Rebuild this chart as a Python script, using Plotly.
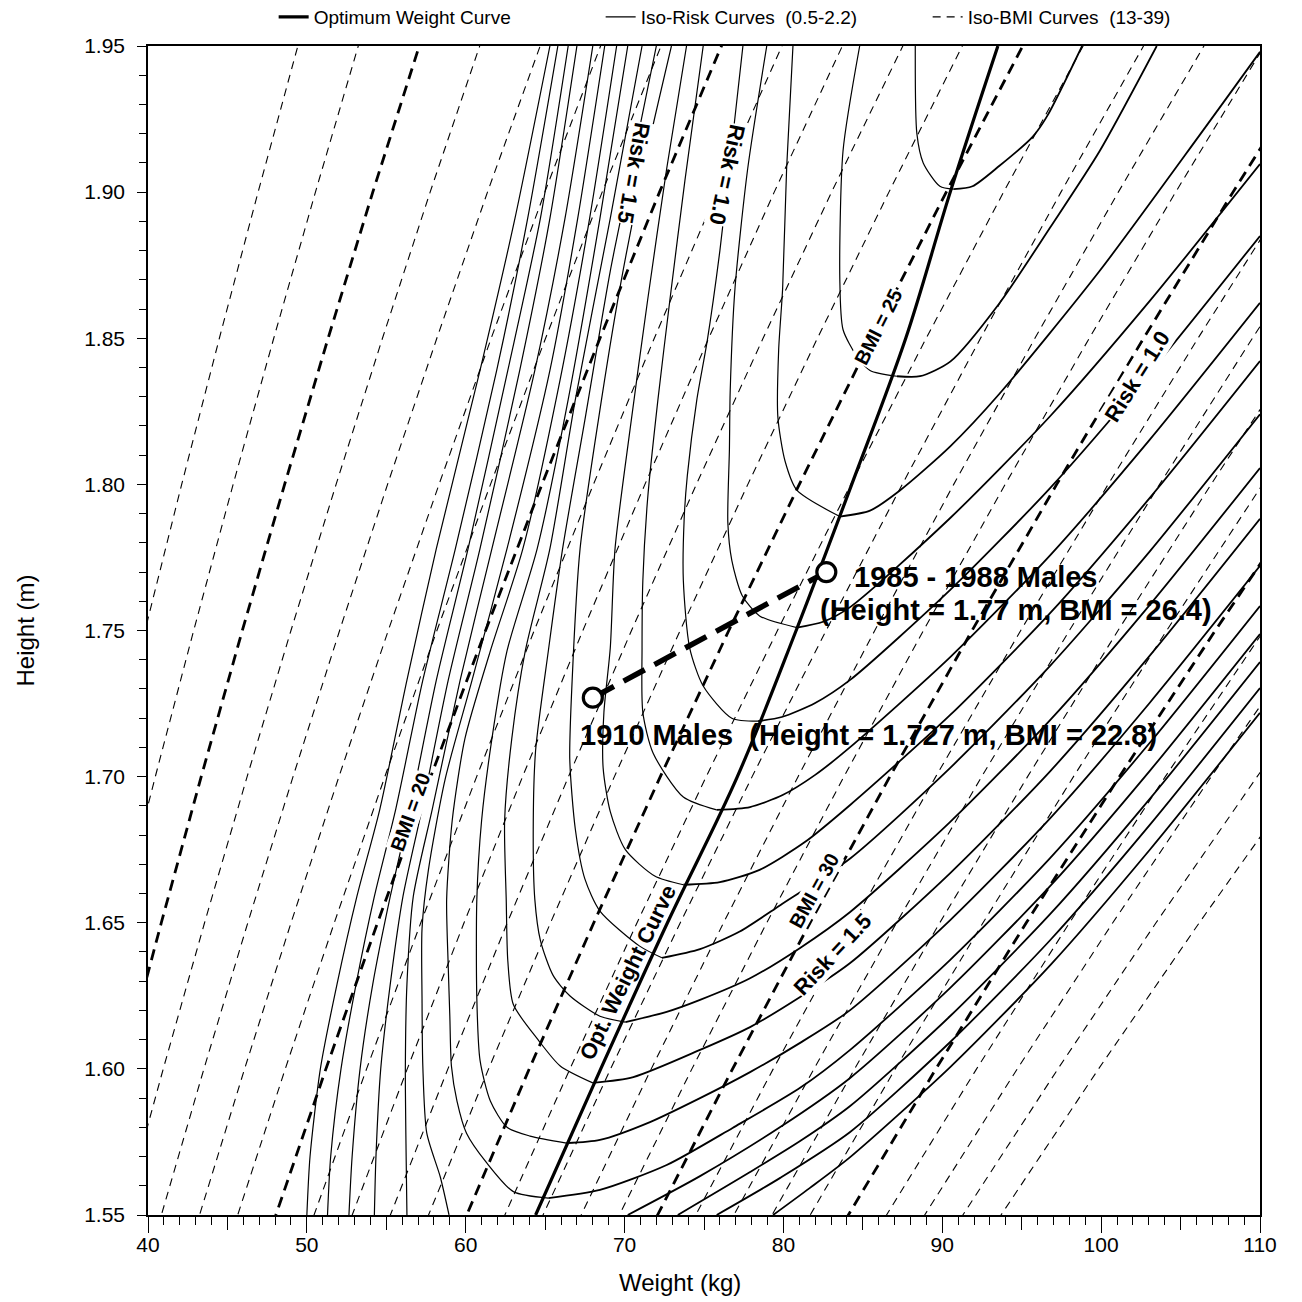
import plotly.graph_objects as go

# ---------------- axes ----------------
X_RANGE = [40, 110]
Y_RANGE = [1.55, 1.95]
X_TICK_VALUES = [40, 45, 50, 55, 60, 65, 70, 75, 80, 85, 90, 95, 100, 105, 110]
X_TICK_TEXT = ["40", "", "50", "", "60", "", "70", "", "80", "", "90", "", "100", "", "110"]
X_LONG_TICKS = [40, 50, 60, 70, 80, 90, 100, 110]
Y_TICK_VALUES = [1.55, 1.60, 1.65, 1.70, 1.75, 1.80, 1.85, 1.90, 1.95]
Y_TICK_TEXT = ["1.55", "1.60", "1.65", "1.70", "1.75", "1.80", "1.85", "1.90", "1.95"]

# ---------------- iso-BMI curves ----------------
BMI_VALUES = list(range(13, 40))
BMI_BOLD = [15, 20, 25, 30, 35]
BMI_HEIGHTS = [1.50, 1.55, 1.60, 1.65, 1.70, 1.75, 1.80, 1.85, 1.90, 1.95, 2.00]

# ---------------- optimum weight curve ----------------
OPT_W = [64.4, 68.5, 72.7, 77.1, 80.8, 84.3, 87.7, 90.5, 93.5]
OPT_H = [1.55, 1.60, 1.65, 1.70, 1.75, 1.80, 1.85, 1.90, 1.95]

# ---------------- observed male populations ----------------
POP_LABELS = ["1910 Males", "1985 - 1988 Males"]
POP_W = [68.0, 82.7]
POP_H = [1.727, 1.77]

# ---------------- iso-risk curves ----------------
risk_01_w = [88.3, 88.4, 88.8, 89.85, 90.7, 91.9, 93.6, 95.7, 96.6, 98.8]
risk_01_h = [1.950, 1.920, 1.910, 1.902, 1.901, 1.902, 1.909, 1.919, 1.926, 1.950]

risk_02_w = [84.8, 83.75, 83.55, 83.75, 84.6, 85.45, 87.15, 88.6, 90.5, 93.6, 96.8, 99.9, 103.5]
risk_02_h = [1.950, 1.914, 1.870, 1.853, 1.844, 1.839, 1.837, 1.837, 1.842, 1.862, 1.888, 1.914, 1.950]

risk_03_w = [80.6, 80.2, 79.95, 79.7, 79.65, 80.1, 80.85, 83.55, 85.45, 87.35, 90.5, 93.6, 99.9, 106.2, 109.6, 110.0]
risk_03_h = [1.950, 1.908, 1.867, 1.846, 1.823, 1.808, 1.798, 1.789, 1.791, 1.798, 1.813, 1.831, 1.873, 1.9195, 1.945, 1.948]

risk_04_w = [78.95, 77.75, 76.95, 76.65, 76.6, 76.5, 76.75, 77.4, 78.5, 80.85, 82.5, 84.2, 90.5, 96.8, 103.05, 110.0]
risk_04_h = [1.950, 1.908, 1.867, 1.832, 1.812, 1.787, 1.774, 1.762, 1.755, 1.751, 1.753, 1.758, 1.7885, 1.8234, 1.8627, 1.9096]

risk_05_w = [77.45, 76.65, 76.0, 75.2, 74.55, 73.95, 73.75, 73.7, 74.1, 74.95, 76.75, 78.4, 79.9, 82.0, 84.2, 90.5, 96.8, 103.05, 110.0]
risk_05_h = [1.950, 1.911, 1.880, 1.849, 1.829, 1.803, 1.788, 1.767, 1.744, 1.731, 1.720, 1.719, 1.7204, 1.7252, 1.7331, 1.7639, 1.7988, 1.8381, 1.885]

risk_06_w = [74.95, 73.8, 72.85, 72.1, 71.45, 71.15, 71.1, 71.15, 71.8, 73.7, 75.8, 77.9, 79.95, 82.0, 84.2, 90.5, 96.8, 103.05, 110.0]
risk_06_h = [1.950, 1.904, 1.863, 1.829, 1.795, 1.767, 1.744, 1.722, 1.708, 1.693, 1.6886, 1.6896, 1.6937, 1.7006, 1.7101, 1.7409, 1.7758, 1.8152, 1.8621]

risk_07_w = [73.9, 72.65, 71.45, 70.35, 69.4, 69.1, 68.7, 68.65, 69.1, 70.05, 71.9, 73.7, 76.0, 78.5, 81.35, 84.2, 90.5, 96.8, 103.05, 110.0]
risk_07_h = [1.950, 1.908, 1.863, 1.819, 1.778, 1.744, 1.722, 1.703, 1.688, 1.675, 1.666, 1.663, 1.6639, 1.6681, 1.6776, 1.6903, 1.7211, 1.756, 1.7953, 1.8422]

risk_08_w = [72.95, 71.3, 69.7, 68.35, 67.2, 66.7, 66.55, 66.9, 67.5, 68.45, 70.95, 72.35, 74.75, 77.25, 79.8, 84.2, 90.5, 96.8, 103.05, 110.0]
risk_08_h = [1.950, 1.911, 1.867, 1.822, 1.778, 1.733, 1.706, 1.682, 1.665, 1.654, 1.642, 1.638, 1.641, 1.647, 1.656, 1.672, 1.703, 1.738, 1.777, 1.824]

risk_09_w = [72.0, 70.65, 69.1, 67.5, 66.1, 65.2, 64.4, 64.25, 64.35, 64.7, 65.5, 66.55, 68.45, 70.05, 72.65, 74.75, 77.9, 81.05, 84.2, 90.5, 96.8, 103.05, 110.0]
risk_09_h = [1.950, 1.914, 1.873, 1.822, 1.778, 1.743, 1.709, 1.682, 1.658, 1.644, 1.632, 1.625, 1.618, 1.616, 1.6195, 1.6236, 1.631, 1.6414, 1.6537, 1.6845, 1.7194, 1.7587, 1.8056]

risk_10_w = [71.1, 69.1, 66.9, 65.3, 63.75, 62.9, 62.45, 62.55, 62.65, 63.0, 64.55, 65.95, 68.0, 70.55, 74.75, 77.9, 81.05, 84.2, 90.5, 96.8, 103.05, 110.0]
risk_10_h = [1.950, 1.891, 1.829, 1.778, 1.743, 1.713, 1.685, 1.658, 1.637, 1.622, 1.610, 1.601, 1.5952, 1.5972, 1.6065, 1.6143, 1.6246, 1.6362, 1.667, 1.7019, 1.7413, 1.7882]

risk_11_w = [70.2, 68.45, 66.45, 64.5, 62.6, 61.65, 61.0, 60.7, 60.7, 60.9, 61.55, 62.6, 64.05, 66.35, 68.45, 71.6, 74.75, 77.9, 81.05, 84.2, 90.5, 96.8, 103.05, 110.0]
risk_11_h = [1.950, 1.891, 1.829, 1.778, 1.743, 1.713, 1.685, 1.658, 1.624, 1.603, 1.589, 1.580, 1.577, 1.5746, 1.5757, 1.5818, 1.590, 1.5989, 1.6089, 1.6201, 1.6509, 1.6858, 1.7252, 1.7721]

risk_12_w = [69.5, 67.8, 65.95, 63.6, 61.55, 59.95, 59.15, 58.8, 58.9, 59.0, 59.1, 59.45, 60.05, 61.3, 63.0, 65.2, 68.45, 72.65, 76.8, 81.05, 84.2, 90.5, 96.8, 103.05, 110.0]
risk_12_h = [1.950, 1.891, 1.836, 1.778, 1.743, 1.713, 1.685, 1.658, 1.635, 1.618, 1.601, 1.589, 1.578, 1.568, 1.558, 1.5558, 1.5586, 1.5671, 1.5798, 1.5935, 1.6065, 1.6373, 1.6722, 1.7115, 1.7584]

risk_13_w = [68.75, 67.05, 65.3, 62.6, 60.4, 58.7, 57.65, 57.25, 57.25, 57.3, 57.55, 58.4, 58.95, None, 70.2, 74.75, 79.8, 84.2, 90.5, 96.8, 103.05, 110.0]
risk_13_h = [1.950, 1.891, 1.839, 1.778, 1.733, 1.699, 1.668, 1.648, 1.624, 1.601, 1.578, 1.563, 1.550, None, 1.550, 1.5633, 1.5801, 1.5969, 1.6277, 1.6626, 1.7019, 1.7488]

risk_14_w = [68.0, 66.25, 64.35, 61.65, 59.65, 57.9, 56.7, 56.3, 56.2, 56.25, 56.3, None, 73.35, 77.9, 81.05, 84.2, 90.5, 96.8, 103.05, 110.0]
risk_14_h = [1.950, 1.891, 1.839, 1.778, 1.733, 1.689, 1.659, 1.629, 1.600, 1.570, 1.550, None, 1.550, 1.5647, 1.5753, 1.5873, 1.6181, 1.653, 1.6923, 1.7392]

risk_15_w = [67.0, 65.3, 63.4, 60.9, 58.9, 57.25, 56.05, 55.25, 54.65, 54.35, 54.25, None, 75.8, 79.8, 84.2, 90.5, 96.8, 103.05, 110.0]
risk_15_h = [1.950, 1.891, 1.839, 1.778, 1.733, 1.689, 1.659, 1.629, 1.600, 1.570, 1.550, None, 1.550, 1.5627, 1.5784, 1.6092, 1.6441, 1.6834, 1.7303]

risk_16_w = [66.45, 64.7, 62.65, 60.15, 58.15, 56.5, 55.25, 54.15, 53.35, 52.85, 52.65, None, 79.35, 81.65, 84.2, 90.5, 96.8, 103.05, 110.0]
risk_16_h = [1.950, 1.891, 1.839, 1.778, 1.733, 1.689, 1.659, 1.629, 1.600, 1.570, 1.550, None, 1.550, 1.5592, 1.5698, 1.6006, 1.6355, 1.6749, 1.7218]

risk_17_w = [65.8, 63.9, 61.95, 59.35, 57.3, 55.6, 54.25, 53.1, 52.15, 51.5, 51.3]
risk_17_h = [1.950, 1.891, 1.839, 1.778, 1.733, 1.689, 1.659, 1.629, 1.600, 1.570, 1.550]

risk_18_w = [65.3, 63.1, 60.9, 58.15, 56.3, 54.6, 53.15, 51.9, 50.85, 50.2, 50.0]
risk_18_h = [1.950, 1.891, 1.839, 1.778, 1.733, 1.689, 1.659, 1.629, 1.600, 1.570, 1.550]

RISK_CURVES = [
    (risk_01_w, risk_01_h), (risk_02_w, risk_02_h), (risk_03_w, risk_03_h),
    (risk_04_w, risk_04_h), (risk_05_w, risk_05_h), (risk_06_w, risk_06_h),
    (risk_07_w, risk_07_h), (risk_08_w, risk_08_h), (risk_09_w, risk_09_h),
    (risk_10_w, risk_10_h), (risk_11_w, risk_11_h), (risk_12_w, risk_12_h),
    (risk_13_w, risk_13_h), (risk_14_w, risk_14_h), (risk_15_w, risk_15_h),
    (risk_16_w, risk_16_h), (risk_17_w, risk_17_h), (risk_18_w, risk_18_h),
]

FONT = "Liberation Sans, Arial, Helvetica, sans-serif"


def split_branches(cw, ch):
    """Split a curve into its steep left branch and its slanted right branch."""
    if None in cw:
        k = cw.index(None)
        return (cw[:k], ch[:k]), (cw[k + 1:], ch[k + 1:])
    k = ch.index(min(ch))
    if k == len(ch) - 1:
        return (cw, ch), ([], [])
    return (cw[:k + 1], ch[:k + 1]), (cw[k:], ch[k:])


fig = go.Figure()

# iso-BMI curves
first_bmi = True
for b in BMI_VALUES:
    bold = b in BMI_BOLD
    fig.add_trace(go.Scatter(
        x=[b * h * h for h in BMI_HEIGHTS], y=BMI_HEIGHTS, mode="lines",
        line=dict(color="black", width=2.8 if bold else 1.1,
                  dash="11px,7px" if bold else "8px,6px"),
        name="Iso-BMI Curves  (13-39)", legendgroup="bmi", legendrank=3,
        showlegend=first_bmi, hoverinfo="skip"))
    first_bmi = False

# iso-risk curves (left branches thin, slanted right branches a little heavier)
first_risk = True
for cw, ch in RISK_CURVES:
    (lw, lh), (rw, rh) = split_branches(cw, ch)
    for bw, bh, width in ((lw, lh, 1.2), (rw, rh, 1.8)):
        if not bw:
            continue
        fig.add_trace(go.Scatter(
            x=bw, y=bh, mode="lines",
            line=dict(color="black", width=width, shape="spline", smoothing=0.7),
            name="Iso-Risk Curves  (0.5-2.2)", legendgroup="risk", legendrank=2,
            showlegend=first_risk, hoverinfo="skip"))
        first_risk = False

# optimum weight curve
fig.add_trace(go.Scatter(
    x=OPT_W, y=OPT_H, mode="lines",
    line=dict(color="black", width=3.2, shape="spline"),
    name="Optimum Weight Curve", legendgroup="opt", legendrank=1,
    hoverinfo="skip"))

# trajectory between populations
fig.add_trace(go.Scatter(
    x=POP_W, y=POP_H, mode="lines",
    line=dict(color="black", width=5.5, dash="24px,11px"),
    showlegend=False, hoverinfo="skip"))
fig.add_trace(go.Scatter(
    x=POP_W, y=POP_H, mode="markers",
    marker=dict(symbol="circle", size=19, color="white",
                line=dict(color="black", width=3.2)),
    showlegend=False, hoverinfo="skip"))

# helper trace carrying the long 10-kg ticks on an overlaid axis
fig.add_trace(go.Scatter(x=[], y=[], xaxis="x2", yaxis="y", showlegend=False,
                         hoverinfo="skip"))

# ---------------- text ----------------
def label(x, y, text, angle, size=22, bg="white"):
    fig.add_annotation(x=x, y=y, xref="x", yref="y", text="<b>" + text + "</b>",
                       textangle=angle, showarrow=False,
                       font=dict(family=FONT, size=size, color="black"),
                       bgcolor=bg, borderpad=0)

label(70.6, 1.9065, "Risk = 1.5", 100)
label(76.45, 1.906, "Risk = 1.0", 102)
label(85.95, 1.854, "BMI = 25", -63, size=20)
label(56.5, 1.688, "BMI = 20", -70, size=20)
label(81.9, 1.661, "BMI = 30", -61, size=20)
label(70.2, 1.633, "Opt. Weight Curve", -64, bg="rgba(0,0,0,0)")
label(102.26, 1.837, "Risk = 1.0", -58)
label(83.1, 1.639, "Risk = 1.5", -47)

BIG = 29
fig.add_annotation(x=84.3, y=1.7683, xref="x", yref="y", xanchor="left",
                   text="<b>" + POP_LABELS[1] + "</b>", showarrow=False,
                   font=dict(family=FONT, size=BIG, color="black"))
fig.add_annotation(x=82.15, y=1.757, xref="x", yref="y", xanchor="left",
                   text="<b>(Height = 1.77 m, BMI = 26.4)</b>", showarrow=False,
                   font=dict(family=FONT, size=BIG, color="black"))
fig.add_annotation(x=67.05, y=1.7142, xref="x", yref="y", xanchor="left",
                   text="<b>" + POP_LABELS[0] + "  (Height = 1.727 m, BMI = 22.8)</b>",
                   showarrow=False, font=dict(family=FONT, size=BIG, color="black"))

# axis titles
fig.add_annotation(x=0.478, y=-0.0575, xref="paper", yref="paper",
                   text="Weight (kg)", showarrow=False, yanchor="middle",
                   font=dict(family=FONT, size=24, color="black"))
fig.add_annotation(x=-0.1106, y=0.5, xref="paper", yref="paper",
                   text="Height (m)", showarrow=False, textangle=-90,
                   xanchor="center", yanchor="middle",
                   font=dict(family=FONT, size=24, color="black"))

# (the page adds an 8 px body margin, so the plot margins are offset by it)
fig.update_layout(
    width=1302, height=1302, autosize=False,
    margin=dict(l=140, r=50, t=38, b=95, autoexpand=False),
    paper_bgcolor="white", plot_bgcolor="white",
    font=dict(family=FONT, color="black"),
    legend=dict(orientation="h", x=0.113, y=1.041, xanchor="left", yanchor="top",
                font=dict(family=FONT, size=19), entrywidth=282,
                entrywidthmode="pixels", bgcolor="rgba(0,0,0,0)",
                traceorder="normal"),
    xaxis2=dict(overlaying="x", anchor="y", side="bottom", range=X_RANGE,
                showgrid=False, zeroline=False, showline=False, automargin=False,
                tickmode="array", tickvals=X_LONG_TICKS, ticks="outside",
                ticklen=17, tickwidth=1.2, tickcolor="black", showticklabels=False),
)
fig.layout.xaxis.update(
    range=X_RANGE, showgrid=False, zeroline=False, automargin=False,
    showline=True, linecolor="black", linewidth=1.5, mirror=True,
    ticks="outside", tickmode="array", tickvals=X_TICK_VALUES, ticktext=X_TICK_TEXT,
    ticklen=13, tickwidth=1.2, tickcolor="black", ticklabelstandoff=-3,
    minor=dict(tickmode="linear", tick0=40, dtick=1, ticks="outside", ticklen=8,
               tickwidth=1, tickcolor="black", showgrid=False),
    tickfont=dict(family=FONT, size=21),
)
fig.layout.yaxis.update(
    range=Y_RANGE, showgrid=False, zeroline=False, automargin=False,
    showline=True, linecolor="black", linewidth=1.5, mirror=True,
    ticks="outside", tickmode="array", tickvals=Y_TICK_VALUES, ticktext=Y_TICK_TEXT,
    ticklen=9, tickwidth=1.2, tickcolor="black", ticklabelstandoff=8,
    minor=dict(tickmode="linear", tick0=1.55, dtick=0.01, ticks="outside", ticklen=7,
               tickwidth=1, tickcolor="black", showgrid=False),
    tickfont=dict(family=FONT, size=21),
)

fig.write_html("out.html")
